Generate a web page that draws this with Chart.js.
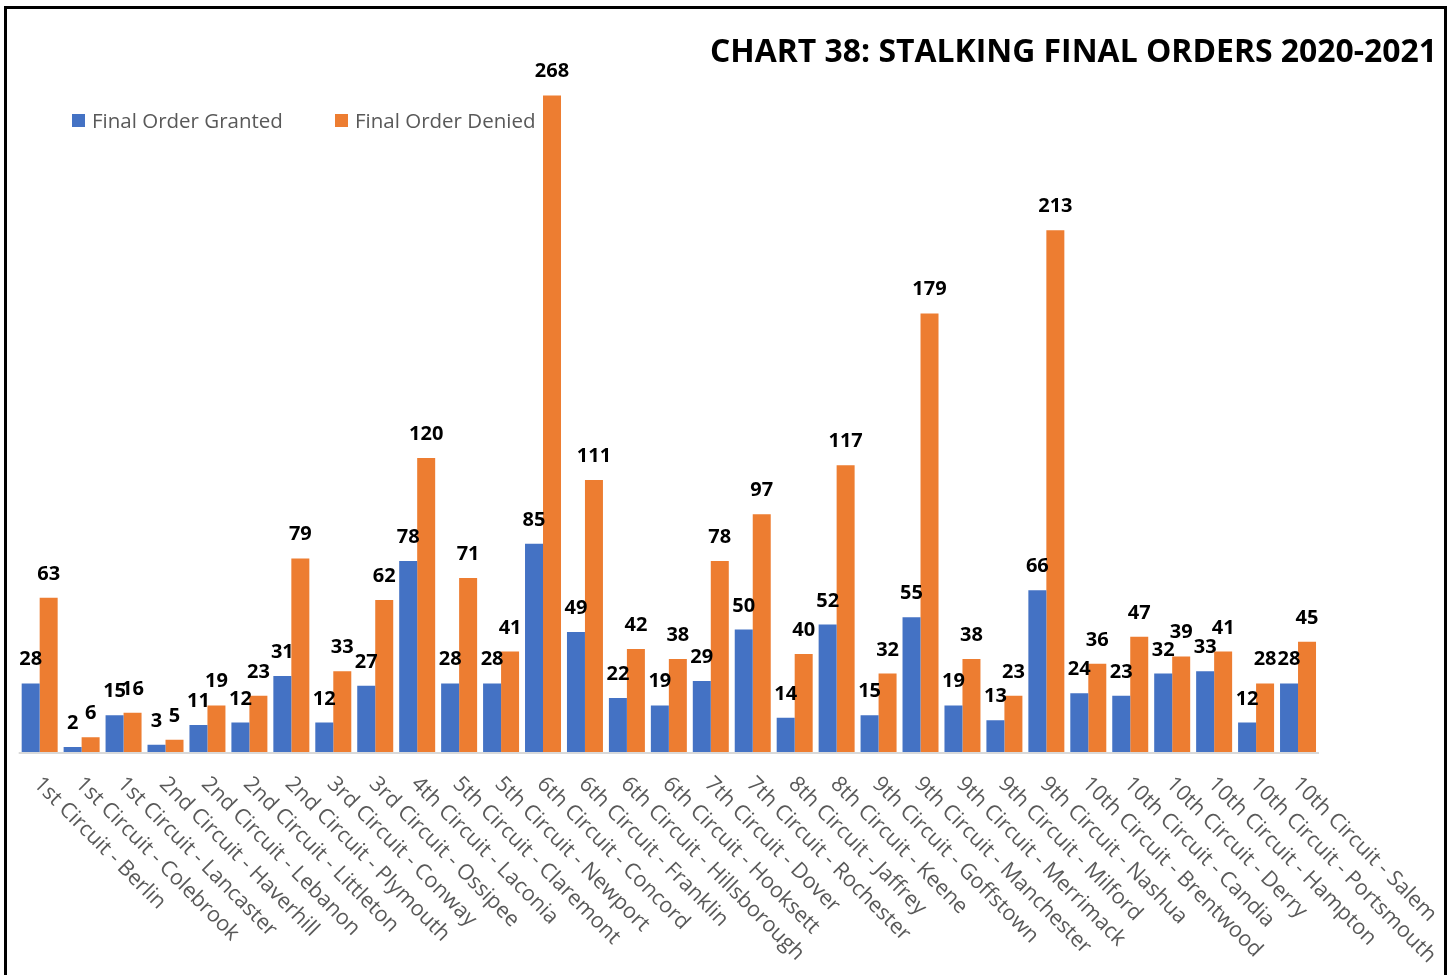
<!DOCTYPE html>
<html>
<head>
<meta charset="utf-8">
<script src="https://cdn.jsdelivr.net/npm/chart.js@4.4.1/dist/chart.umd.min.js"></script>
<style>
  html, body { margin: 0; padding: 0; background: #fff; overflow: hidden; }
  .wrap { position: relative; width: 1453px; height: 975px; }
  #ordersChart { position: absolute; left: 0; top: 0; }
  .frame {
    position: absolute; left: 4px; top: 6px; width: 1443px; height: 1000px;
    box-sizing: border-box; border: 3px solid #000; pointer-events: none;
  }
</style>
</head>
<body>
<div class="wrap">
  <canvas id="ordersChart" width="1453" height="975"></canvas>
  <div class="frame"></div>
</div>
<script>
const TITLE = 'CHART 38: STALKING FINAL ORDERS 2020-2021';

const courts = [
  '1st Circuit - Berlin', '1st Circuit - Colebrook', '1st Circuit - Lancaster',
  '2nd Circuit - Haverhill', '2nd Circuit - Lebanon', '2nd Circuit - Littleton',
  '2nd Circuit - Plymouth', '3rd Circuit - Conway', '3rd Circuit - Ossipee',
  '4th Circuit - Laconia', '5th Circuit - Claremont', '5th Circuit - Newport',
  '6th Circuit - Concord', '6th Circuit - Franklin', '6th Circuit - Hillsborough',
  '6th Circuit - Hooksett', '7th Circuit - Dover', '7th Circuit - Rochester',
  '8th Circuit - Jaffrey', '8th Circuit - Keene', '9th Circuit - Goffstown',
  '9th Circuit - Manchester', '9th Circuit - Merrimack', '9th Circuit - Milford',
  '9th Circuit - Nashua', '10th Circuit - Brentwood', '10th Circuit - Candia',
  '10th Circuit - Derry', '10th Circuit - Hampton', '10th Circuit - Portsmouth',
  '10th Circuit - Salem',
];

const granted = [28, 2, 15, 3, 11, 12, 31, 12, 27, 78, 28, 28, 85, 49, 22, 19, 29, 50, 14, 52, 15, 55, 19, 13, 66, 24, 23, 32, 33, 12, 28];
const denied = [63, 6, 16, 5, 19, 23, 79, 33, 62, 120, 71, 41, 268, 111, 42, 38, 78, 97, 40, 117, 32, 179, 38, 23, 213, 36, 47, 39, 41, 28, 45];

const BLUE = '#4472C4';
const ORANGE = '#ED7D31';
const GREY_TEXT = '#595959';

// title, legend, baseline, value labels and slanted court names
const decorations = {
  id: 'decorations',
  afterDatasetsDraw(chart) {
    const { ctx, chartArea, scales } = chart;
    const y0 = scales.y.getPixelForValue(0);

    ctx.save();
    ctx.strokeStyle = '#D9D9D9';
    ctx.lineWidth = 2;
    ctx.beginPath();
    ctx.moveTo(chartArea.left, y0 + 1);
    ctx.lineTo(chartArea.right, y0 + 1);
    ctx.stroke();

    // value labels over each bar
    ctx.fillStyle = '#000';
    ctx.font = 'bold 20px "Open Sans"';
    ctx.textAlign = 'center';
    ctx.textBaseline = 'alphabetic';
    chart.data.datasets.forEach((ds, i) => {
      chart.getDatasetMeta(i).data.forEach((bar, j) => {
        ctx.fillText(String(ds.data[j]), bar.x, bar.y - 18);
      });
    });

    // court names, slanted down to the right
    ctx.fillStyle = GREY_TEXT;
    ctx.font = '21.5px "Open Sans"';
    ctx.textAlign = 'left';
    chart.data.labels.forEach((label, j) => {
      const x = scales.x.getPixelForValue(j);
      ctx.save();
      ctx.translate(x - 7, y0 + 33);
      ctx.rotate(Math.PI / 4);
      ctx.fillText(label, 0, 0);
      ctx.restore();
    });

    // legend
    ctx.font = '20.5px "Open Sans"';
    const legendItems = [
      { x: 72, ds: chart.data.datasets[0] },
      { x: 335, ds: chart.data.datasets[1] },
    ];
    legendItems.forEach(({ x, ds }) => {
      ctx.fillStyle = ds.backgroundColor;
      ctx.fillRect(x, 114, 13, 13);
      ctx.fillStyle = GREY_TEXT;
      ctx.fillText(ds.label, x + 20, 128);
    });

    // title, squeezed to the width of the header band
    ctx.fillStyle = '#000';
    ctx.font = 'bold 32px "Open Sans"';
    const w = ctx.measureText(TITLE).width;
    ctx.translate(710, 62);
    ctx.scale(727 / w, 1);
    ctx.fillText(TITLE, 0, 0);
    ctx.restore();
  },
};

new Chart(document.getElementById('ordersChart'), {
  type: 'bar',
  data: {
    labels: courts,
    datasets: [
      { label: 'Final Order Granted', data: granted, backgroundColor: BLUE },
      { label: 'Final Order Denied', data: denied, backgroundColor: ORANGE },
    ],
  },
  options: {
    responsive: false,
    animation: false,
    devicePixelRatio: 1,
    layout: { padding: { left: 18.7, right: 134, top: 17, bottom: 223 } },
    datasets: {
      bar: { categoryPercentage: 0.858, barPercentage: 1.0, borderWidth: 0 },
    },
    plugins: {
      legend: { display: false },
      title: { display: false },
      tooltip: { enabled: false },
    },
    scales: {
      x: { display: false },
      y: { display: false, min: 0, max: 300 },
    },
  },
  plugins: [decorations],
});
</script>
</body>
</html>
